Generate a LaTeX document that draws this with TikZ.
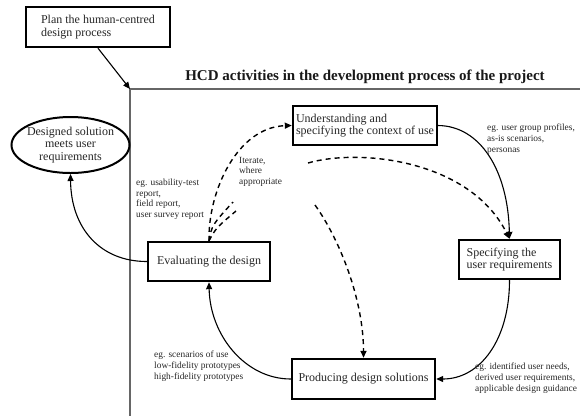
\documentclass[tikz,border=0pt]{standalone}
\usepackage{fontspec}
\setmainfont{Liberation Serif}
\usetikzlibrary{arrows.meta,shapes.geometric}
\begin{document}
\begin{tikzpicture}[x=1pt,y=-1pt,
  box/.style={draw=black,line width=2.4pt,fill=white,inner sep=2pt,minimum height=39pt,align=left,font=\fontsize{12}{12.5}\selectfont,text=black!85},
  lab/.style={anchor=north west,inner sep=0pt,align=left,font=\fontsize{9.4}{10.6}\selectfont,text=black!85},
  conn/.style={line width=1.1pt,-{Triangle[length=7pt,width=6pt]}},
  dashline/.style={line width=1.4pt,dash pattern=on 5pt off 4pt},
  dconn/.style={dashline,-{Triangle[length=7pt,width=6pt]}},
  framel/.style={draw=black!60,line width=1.2pt}]
\useasboundingbox (0,0) rectangle (580,416);

% frame
\coordinate (corner) at (130,89);
\coordinate (fr) at (580,89);
\coordinate (fb) at (130,416);
\draw[framel] (fr) -- (corner) -- (fb);

\node[font=\bfseries\fontsize{15}{18}\selectfont,text=black!90] (title) at (365,77) {HCD activities in the development process of the project};

\node[box,minimum width=144pt,minimum height=40pt] (plan) at (98,27) {Plan the human-centred\\design process};
\node[box,minimum width=144pt] (und) at (365,125.5) {Understanding and\\specifying the context of use};
\node[box,minimum width=101pt] (spec) at (509.5,259.5) {Specifying the\\user requirements};
\node[box,minimum width=143pt,minimum height=40pt] (prod) at (363.5,379) {Producing design solutions};
\node[box,minimum width=122pt] (eval) at (209,261.5) {Evaluating the design};
\node[ellipse,draw=black,line width=2pt,minimum width=118pt,minimum height=56pt,inner xsep=-3pt,inner ysep=-3pt,align=center,font=\fontsize{12}{12.5}\selectfont,text=black!85] (goal) at (70.5,145) {Designed solution\\meets user\\requirements};

% solid connectors
\draw[conn] (plan.south) -- (corner);
\draw[conn] (und.east) .. controls (480,126) and (508,170) .. (spec.north);
\draw[conn] (spec.south) .. controls (509.5,340) and (480,379) .. (prod.east);
\draw[conn] (prod.west) .. controls (245,379) and (210,335) .. (eval.south);
\draw[conn] (eval.west) .. controls (100,261.5) and (71,228) .. (goal.south);

% dashed iteration connectors
\draw[dconn] (eval.north) .. controls (208,190) and (238,127) .. (und.west);
\coordinate (s1) at (233,202);
\coordinate (s2) at (236,211);
\draw[dashline] (eval.north) .. controls (212,225) .. (s1);
\draw[dashline] (eval.north) .. controls (216,228) .. (s2);
\coordinate (c1) at (308,163);
\coordinate (c2) at (315,205);
\draw[dconn] (c1) .. controls (360,148) and (470,160) .. (spec.north);
\draw[dconn] (c2) .. controls (340,240) and (363.5,300) .. (prod.north);

% labels
\node[lab] (lit) at (239,157) {Iterate,\\where\\appropriate};
\node[lab] (lev) at (136,179) {eg. usability-test\\report,\\field report,\\user survey report};
\node[lab] (lun) at (487,124) {eg. user group profiles,\\as-is scenarios,\\personas};
\node[lab] (lpr) at (154,351) {eg. scenarios of use\\low-fidelity prototypes\\high-fidelity prototypes};
\node[lab] (lsp) at (475,363) {eg. identified user needs,\\derived user requirements,\\applicable design guidance};
\end{tikzpicture}
\end{document}
